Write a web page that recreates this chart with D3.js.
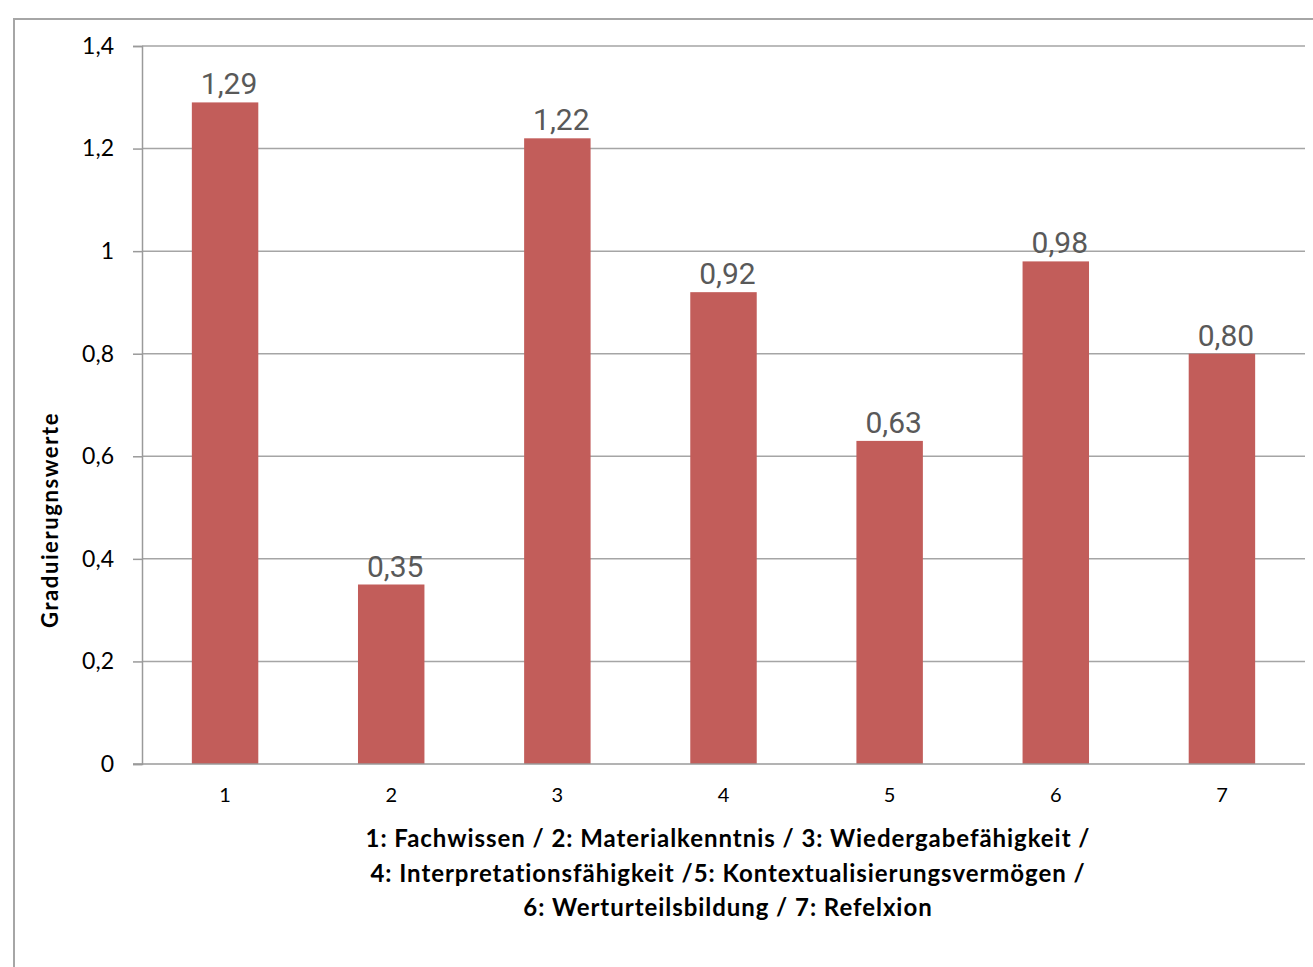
<!DOCTYPE html>
<html>
<head>
<meta charset="utf-8">
<script src="https://cdn.jsdelivr.net/npm/d3@7"></script>
<style>
  html, body { margin: 0; padding: 0; background: #fff; }
  svg { display: block; }
</style>
</head>
<body>
<svg id="chart" width="1313" height="967"></svg>
<script>
// Category numbers along the x axis
const categories = ["1", "2", "3", "4", "5", "6", "7"];
// Graduation value per competence
const values = [1.29, 0.35, 1.22, 0.92, 0.63, 0.98, 0.80];
// Value axis ticks
const yTicks = [0, 0.2, 0.4, 0.6, 0.8, 1.0, 1.2, 1.4];
const yTitle = "Graduierugnswerte";
const xTitleLines = [
  "1: Fachwissen / 2: Materialkenntnis / 3: Wiedergabefähigkeit /",
  "4: Interpretationsfähigkeit /5: Kontextualisierungsvermögen /",
  "6: Werturteilsbildung / 7: Refelxion"
];

const de = d3.formatLocale({ decimal: ",", thousands: ".", grouping: [3], currency: ["", " €"] });
const tickFmt = v => de.format("~g")(+v.toFixed(2));
const labelFmt = de.format(".2f");

const svg = d3.select("#chart");
const plotLeft = 142, plotRight = 1305, plotTop = 46, plotBottom = 764;

// Outer frame
svg.append("rect")
  .attr("x", 14).attr("y", 19)
  .attr("width", 1400).attr("height", 1000)
  .attr("fill", "#fff")
  .attr("stroke", "#a6a6a6").attr("stroke-width", 2);

const x = d3.scaleBand().domain(categories).range([plotLeft, plotRight]).paddingInner(0.6).paddingOuter(0.3);
const y = d3.scaleLinear().domain([0, 1.4]).range([plotBottom, plotTop]);

// Horizontal gridlines
svg.append("g").selectAll("line")
  .data(yTicks.filter(t => t > 0))
  .join("line")
  .attr("x1", plotLeft).attr("x2", plotRight)
  .attr("y1", d => y(d)).attr("y2", d => y(d))
  .attr("stroke", "#a5a5a5").attr("stroke-width", 1.5);

// Bars
svg.append("g").selectAll("rect")
  .data(values)
  .join("rect")
  .attr("x", (d, i) => x(categories[i]))
  .attr("width", x.bandwidth())
  .attr("y", d => y(d))
  .attr("height", d => y(0) - y(d))
  .attr("fill", "#c25d5a");

// Value axis
const yAxis = svg.append("g")
  .attr("transform", `translate(${plotLeft},0)`)
  .call(d3.axisLeft(y).tickValues(yTicks).tickFormat(tickFmt).tickSize(9).tickPadding(19));
yAxis.select(".domain").attr("stroke", "#9a9a9a").attr("stroke-width", 1.5);
yAxis.selectAll(".tick line").attr("stroke", "#9a9a9a").attr("stroke-width", 1.5);
yAxis.selectAll(".tick text")
  .attr("font-family", "Lato, 'Open Sans', sans-serif")
  .attr("font-size", 23).attr("fill", "#000");

// Baseline
svg.append("line")
  .attr("x1", plotLeft - 9).attr("x2", plotRight)
  .attr("y1", y(0)).attr("y2", y(0))
  .attr("stroke", "#9a9a9a").attr("stroke-width", 1.5);

// Category labels
const xAxis = svg.append("g")
  .attr("transform", `translate(0,${plotBottom})`)
  .call(d3.axisBottom(x).tickSize(0).tickPadding(24));
xAxis.select(".domain").remove();
xAxis.selectAll(".tick text")
  .attr("font-family", "Lato, 'Open Sans', sans-serif")
  .attr("font-size", 20).attr("fill", "#000");

// Data labels
svg.append("g").selectAll("text")
  .data(values)
  .join("text")
  .attr("x", (d, i) => x(categories[i]) + x.bandwidth() / 2 + 4)
  .attr("y", d => y(d) - 8)
  .attr("text-anchor", "middle")
  .attr("font-family", "Roboto, sans-serif")
  .attr("font-size", 30)
  .attr("fill", "#595959")
  .text(d => labelFmt(d));

// Axis titles
svg.append("text")
  .attr("transform", "translate(58,520) rotate(-90)")
  .attr("text-anchor", "middle")
  .attr("font-family", "Lato, 'Open Sans', sans-serif")
  .attr("font-weight", "bold")
  .attr("font-size", 22)
  .attr("letter-spacing", 1.6)
  .attr("fill", "#000")
  .text(yTitle);

svg.append("g").selectAll("text")
  .data(xTitleLines)
  .join("text")
  .attr("x", 728)
  .attr("y", (d, i) => 847 + i * 34.5)
  .attr("text-anchor", "middle")
  .attr("font-family", "Lato, 'Open Sans', sans-serif")
  .attr("font-weight", "bold")
  .attr("font-size", 24)
  .attr("letter-spacing", 0.95)
  .attr("fill", "#000")
  .text(d => d);
</script>
</body>
</html>
